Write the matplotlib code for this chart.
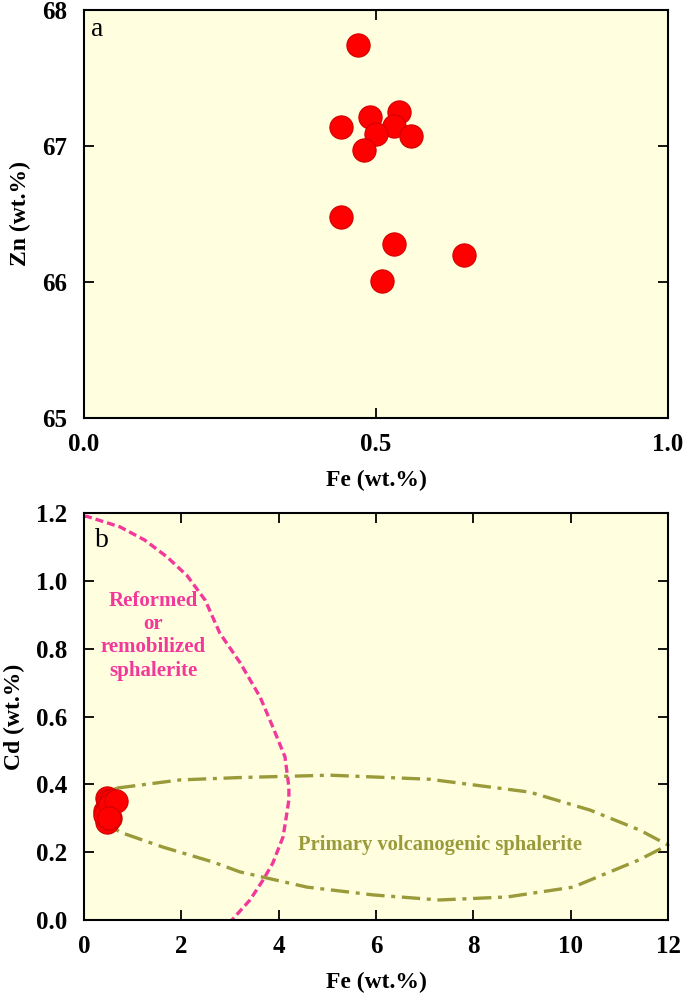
import matplotlib
matplotlib.use("Agg")
import matplotlib.pyplot as plt

# ---- data ----
fe = [0.47, 0.44, 0.49, 0.54, 0.53, 0.50, 0.56, 0.48, 0.44, 0.53, 0.65, 0.51]
zn = [67.74, 67.14, 67.21, 67.25, 67.15, 67.09, 67.07, 66.97, 66.48, 66.28, 66.20, 66.01]
cd = [0.36, 0.32, 0.35, 0.34, 0.30, 0.33, 0.35, 0.29, 0.31, 0.34, 0.35, 0.30]

# field outlines (Fe, Cd)
reform_fe = [0.0, 0.06, 0.74, 1.25, 1.71, 2.12, 2.49, 2.79, 3.21, 3.62, 3.88, 4.13, 4.21, 4.21, 4.13, 4.09, 3.88, 3.68, 3.41, 3.04]
reform_cd = [1.19, 1.19, 1.159, 1.12, 1.07, 1.015, 0.943, 0.846, 0.758, 0.657, 0.569, 0.481, 0.392, 0.354, 0.28, 0.245, 0.168, 0.118, 0.059, 0.0]

prim_fe = [0.68, 1.97, 3.2, 5.05, 7.1, 9.16, 10.4, 11.42, 12.0, 11.4, 10.05, 8.7, 7.3, 5.94, 4.58, 3.2, 2.65, 1.62, 0.74, 0.33, 0.27, 0.33, 0.47, 0.68]
prim_cd = [0.389, 0.413, 0.42, 0.427, 0.415, 0.377, 0.324, 0.265, 0.221, 0.177, 0.097, 0.068, 0.059, 0.074, 0.097, 0.142, 0.171, 0.215, 0.259, 0.30, 0.324, 0.348, 0.374, 0.389]

a_xticks = [0.0, 0.5, 1.0]
a_yticks = [65, 66, 67, 68]
b_xticks = [0, 2, 4, 6, 8, 10, 12]
b_yticks = [0.0, 0.2, 0.4, 0.6, 0.8, 1.0, 1.2]

BG = "#FFFFE0"
PINK = "#F2399A"
OLIVE = "#9A9A3A"
SERIF = ["Liberation Serif", "DejaVu Serif"]

plt.rcParams["font.family"] = SERIF

fig = plt.figure(figsize=(6.85, 9.98), dpi=100)
axa = fig.add_axes([84/685, 580/998, 584/685, 408/998])
axb = fig.add_axes([84/685, 78/998, 584/685, 407/998])

FS = 18
LFS = 17

def style(ax):
    ax.set_facecolor(BG)
    for s in ax.spines.values():
        s.set_linewidth(1.5)
    ax.tick_params(direction="in", length=7, width=1.3, top=True, right=True,
                   labelsize=FS)
    ax.tick_params(axis="x", pad=11)
    ax.tick_params(axis="y", pad=12)
    for lab in ax.get_xticklabels() + ax.get_yticklabels():
        lab.set_fontweight("bold")

# panel a
axa.scatter(fe, zn, s=280, color="#FF0000", edgecolors="#D00000", linewidths=0.8, zorder=3)
axa.set_xlim(0, 1.0)
axa.set_ylim(65, 68)
axa.set_xticks(a_xticks)
axa.set_xticklabels(["%.1f" % v for v in a_xticks])
axa.set_yticks(a_yticks)
axa.set_yticklabels([str(v) for v in a_yticks])
style(axa)
axa.set_xlabel("Fe (wt.%)", fontsize=LFS, fontweight="bold", labelpad=10)
axa.set_ylabel("Zn (wt.%)", fontsize=LFS, fontweight="bold", labelpad=8)
axa.text(0.012, 0.936, "a", transform=axa.transAxes, fontsize=20, va="baseline", ha="left")

# panel b
axb.plot(reform_fe, reform_cd, color=PINK, lw=2.4, linestyle=(0, (2.4, 1.2)), zorder=2, clip_on=False)
axb.plot(prim_fe, prim_cd, color=OLIVE, lw=2.4, linestyle=(0, (5.5, 2.0, 1.2, 2.0)), zorder=2, clip_on=False)
axb.scatter(fe, cd, s=280, color="#FF0000", edgecolors="#D00000", linewidths=0.8, zorder=3)
axb.set_xlim(0, 12)
axb.set_ylim(0, 1.2)
axb.set_xticks(b_xticks)
axb.set_xticklabels([str(v) for v in b_xticks])
axb.set_yticks(b_yticks)
axb.set_yticklabels(["%.1f" % v for v in b_yticks])
style(axb)
axb.set_xlabel("Fe (wt.%)", fontsize=LFS, fontweight="bold", labelpad=10)
axb.set_ylabel("Cd (wt.%)", fontsize=LFS, fontweight="bold", labelpad=8)
axb.text(0.019, 0.917, "b", transform=axb.transAxes, fontsize=20, va="baseline", ha="left")
axb.text(1.42, 0.838, "Reformed\nor\nremobilized\nsphalerite", color=PINK, fontsize=15,
         fontweight="bold", ha="center", va="center", multialignment="center", linespacing=1.22)
axb.text(7.31, 0.221, "Primary volcanogenic sphalerite", color=OLIVE, fontsize=14.8,
         fontweight="bold", ha="center", va="center")

fig.savefig("out.png", dpi=100, facecolor="white")
